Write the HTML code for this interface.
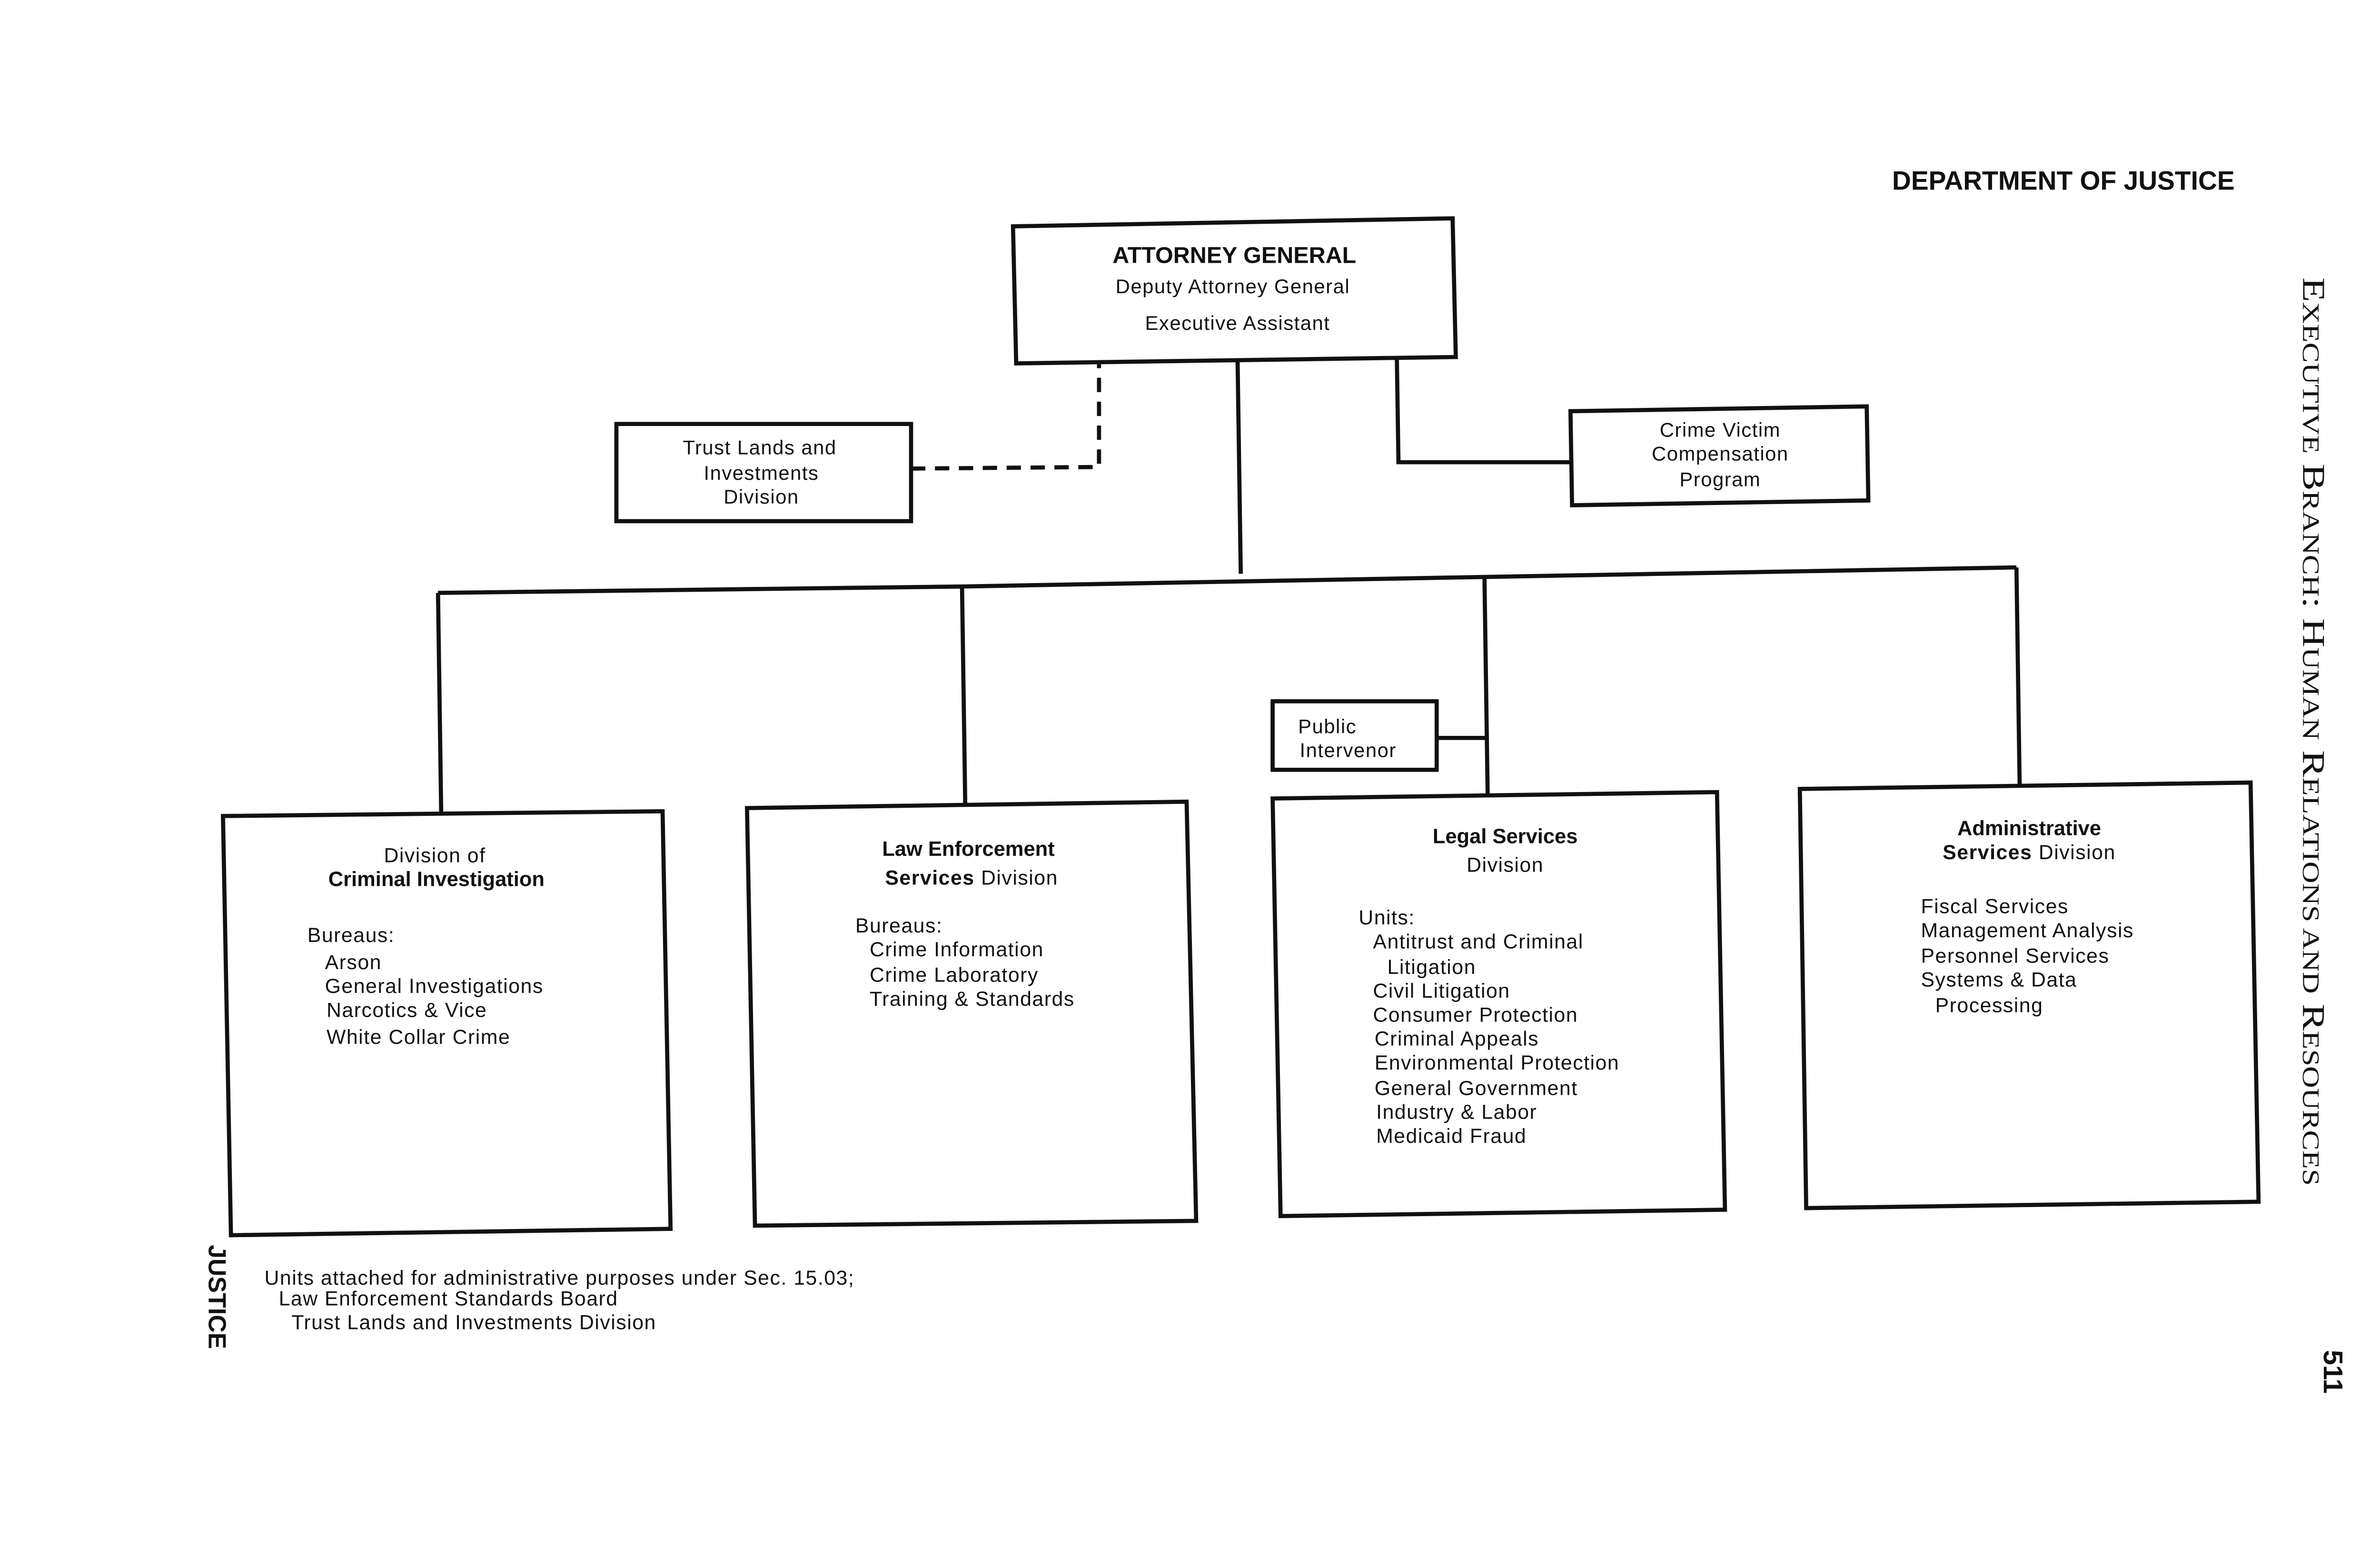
<!DOCTYPE html>
<html><head><meta charset="utf-8"><style>
html,body{margin:0;padding:0;background:#fff;}
svg{display:block;}
text{font-family:"Liberation Sans",sans-serif;fill:#111;}
.b{font-weight:bold;}
.t{letter-spacing:0.45px;}
</style></head><body>
<svg width="5220" height="3248" viewBox="0 0 1560 970" preserveAspectRatio="none" xmlns="http://www.w3.org/2000/svg">
<rect width="1560" height="970" fill="#fff"/>
<g stroke="#111" stroke-width="2.6" fill="none">
<polygon points="636,142 912,137 914,224 638,228"/>
<rect x="387" y="266" width="185" height="61"/>
<polygon points="986,258 1172,255 1173,314 987,317"/>
<rect x="799" y="440" width="103" height="43"/>
<polygon points="140,512 416,509 421,771 145,775"/>
<polygon points="469,507 745,503 751,766 474,769"/>
<polygon points="799,501 1078,497 1083,759 804,763"/>
<polygon points="1130,495 1413,491 1418,754 1134,758"/>
<path d="M572,294 L690,293 L690,228" stroke-dasharray="9,6"/>
<path d="M877,225 L878,290 L986,290"/>
<path d="M777,226 L779,360"/>
<path d="M275,372 L603,368 L932,362 L1266,356"/>
<path d="M275,372 L277,510"/>
<path d="M604,368 L606,504"/>
<path d="M932,362 L934,498"/>
<path d="M1266,356 L1268,492"/>
<path d="M902,463 L933,463"/>
</g>
<text class="b" x="1403" y="119" text-anchor="end" font-size="16.5">DEPARTMENT OF JUSTICE</text>
<text class="b" x="775" y="165" text-anchor="middle" font-size="14.5">ATTORNEY GENERAL</text>
<text class="t" x="774" y="184" text-anchor="middle" font-size="12.5">Deputy Attorney General</text>
<text class="t" x="777" y="207" text-anchor="middle" font-size="12.5">Executive Assistant</text>
<g font-size="12.5" text-anchor="middle" class="t">
<text x="477" y="285">Trust Lands and</text>
<text x="478" y="301">Investments</text>
<text x="478" y="316">Division</text>
<text x="1080" y="274">Crime Victim</text>
<text x="1080" y="289">Compensation</text>
<text x="1080" y="305">Program</text>
</g>
<text class="t" x="815" y="460" font-size="12.5">Public</text>
<text class="t" x="816" y="475" font-size="12.5">Intervenor</text>
<g font-size="12.8" class="t">
<text x="273" y="541" text-anchor="middle">Division of</text>
<text class="b" x="274" y="556" text-anchor="middle" font-size="13" letter-spacing="0">Criminal Investigation</text>
<text x="193" y="591">Bureaus:</text>
<text x="204" y="608">Arson</text>
<text x="204" y="623">General Investigations</text>
<text x="205" y="638">Narcotics &amp; Vice</text>
<text x="205" y="655">White Collar Crime</text>

<text class="b" x="608" y="537" text-anchor="middle" font-size="13" letter-spacing="0">Law Enforcement</text>
<text x="610" y="555" text-anchor="middle"><tspan class="b">Services</tspan> Division</text>
<text x="537" y="585">Bureaus:</text>
<text x="546" y="600">Crime Information</text>
<text x="546" y="616">Crime Laboratory</text>
<text x="546" y="631">Training &amp; Standards</text>

<text class="b" x="945" y="529" text-anchor="middle" font-size="13" letter-spacing="0">Legal Services</text>
<text x="945" y="547" text-anchor="middle">Division</text>
<text x="853" y="580">Units:</text>
<text x="862" y="595">Antitrust and Criminal</text>
<text x="871" y="611">Litigation</text>
<text x="862" y="626">Civil Litigation</text>
<text x="862" y="641">Consumer Protection</text>
<text x="863" y="656">Criminal Appeals</text>
<text x="863" y="671">Environmental Protection</text>
<text x="863" y="687">General Government</text>
<text x="864" y="702">Industry &amp; Labor</text>
<text x="864" y="717">Medicaid Fraud</text>

<text class="b" x="1274" y="524" text-anchor="middle" font-size="13" letter-spacing="0">Administrative</text>
<text x="1274" y="539" text-anchor="middle"><tspan class="b">Services</tspan> Division</text>
<text x="1206" y="573">Fiscal Services</text>
<text x="1206" y="588">Management Analysis</text>
<text x="1206" y="604">Personnel Services</text>
<text x="1206" y="619">Systems &amp; Data</text>
<text x="1215" y="635">Processing</text>

<text x="166" y="806">Units attached for administrative purposes under Sec. 15.03;</text>
<text x="175" y="819">Law Enforcement Standards Board</text>
<text x="183" y="834">Trust Lands and Investments Division</text>
</g>
<text class="b" font-size="15.5" transform="translate(131,781) rotate(90)">JUSTICE</text>
<text class="b" font-size="17" transform="translate(1459,847) rotate(90)">511</text>
<text style="font-family:'Liberation Serif',serif" font-size="20" transform="translate(1446,174) rotate(90)" textLength="570" lengthAdjust="spacingAndGlyphs">E<tspan font-size="15">XECUTIVE</tspan> B<tspan font-size="15">RANCH</tspan>: H<tspan font-size="15">UMAN</tspan> R<tspan font-size="15">ELATIONS AND</tspan> R<tspan font-size="15">ESOURCES</tspan></text>
</svg>
</body></html>
